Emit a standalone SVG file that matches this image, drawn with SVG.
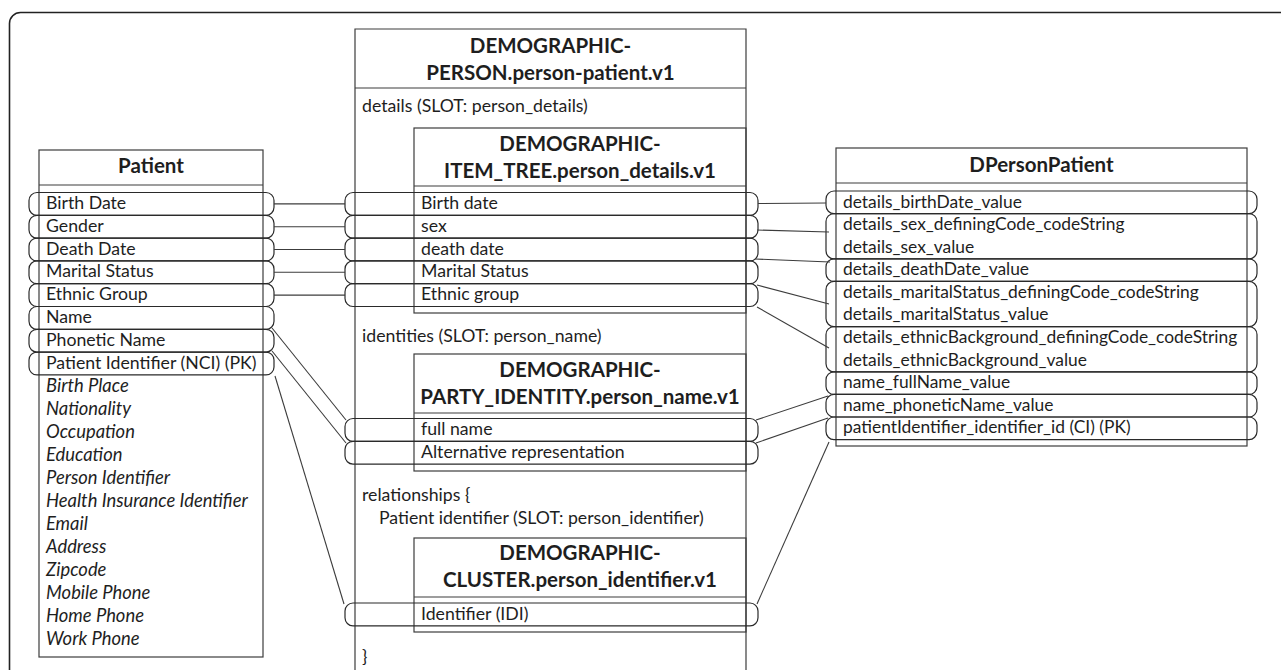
<svg xmlns="http://www.w3.org/2000/svg" width="1281" height="670" viewBox="0 0 1281 670">
<style>
.box{fill:none;stroke:#3c3c3c;stroke-width:1.2}
.pill{fill:none;stroke:#2a2a2a;stroke-width:1.2}
.ln{stroke:#3c3c3c;stroke-width:1.1;fill:none}
text{font-family:Lato,"Liberation Sans",sans-serif;fill:#1e1e1e}
.t{font-size:17.7px}
.r{font-size:17.4px}
.i{font-size:18.4px;font-style:italic}
.h{font-size:20.5px;font-weight:bold;text-anchor:middle}
</style>
<rect width="1281" height="670" fill="#fff"/>
<rect x="9.5" y="12.5" width="1320" height="720" rx="11" fill="none" stroke="#222" stroke-width="1.6"/>

<g id="patient">
<rect class="box" x="39" y="150" width="224" height="507"/>
<line class="box" x1="39" y1="185" x2="263" y2="185"/>
<text class="h" x="151" y="173">Patient</text>
<rect class="pill" x="29" y="192.5" width="245" height="22.8" rx="8"/>
<rect class="pill" x="29" y="215.3" width="245" height="22.8" rx="8"/>
<rect class="pill" x="29" y="238.1" width="245" height="22.8" rx="8"/>
<rect class="pill" x="29" y="260.9" width="245" height="22.8" rx="8"/>
<rect class="pill" x="29" y="283.7" width="245" height="22.8" rx="8"/>
<rect class="pill" x="29" y="306.5" width="245" height="22.8" rx="8"/>
<rect class="pill" x="29" y="329.3" width="245" height="22.8" rx="8"/>
<rect class="pill" x="29" y="352.1" width="245" height="22.8" rx="8"/>
<text class="t" x="46" y="209">Birth Date</text>
<text class="t" x="46" y="231.8">Gender</text>
<text class="t" x="46" y="254.6">Death Date</text>
<text class="t" x="46" y="277.4">Marital Status</text>
<text class="t" x="46" y="300.2">Ethnic Group</text>
<text class="t" x="46" y="323">Name</text>
<text class="t" x="46" y="345.8">Phonetic Name</text>
<text class="t" x="46" y="368.6">Patient Identifier (NCI) (PK)</text>
<text class="i" x="46" y="392">Birth Place</text>
<text class="i" x="46" y="415">Nationality</text>
<text class="i" x="46" y="438">Occupation</text>
<text class="i" x="46" y="461">Education</text>
<text class="i" x="46" y="484">Person Identifier</text>
<text class="i" x="46" y="507">Health Insurance Identifier</text>
<text class="i" x="46" y="530">Email</text>
<text class="i" x="46" y="553">Address</text>
<text class="i" x="46" y="576">Zipcode</text>
<text class="i" x="46" y="599">Mobile Phone</text>
<text class="i" x="46" y="622">Home Phone</text>
<text class="i" x="46" y="645">Work Phone</text>
</g>

<g id="person-patient">
<path class="box" d="M355 690 V29 H746 V690"/>
<line class="box" x1="355" y1="88" x2="746" y2="88"/>
<text class="h" x="550.5" y="52.5">DEMOGRAPHIC-</text>
<text class="h" x="550.5" y="79.5">PERSON.person-patient.v1</text>
<text class="t" x="362" y="111.5">details (SLOT: person_details)</text>
<text class="t" x="362" y="341.5">identities (SLOT: person_name)</text>
<text class="t" x="362" y="500.5">relationships {</text>
<text class="t" x="379" y="523.5">Patient identifier (SLOT: person_identifier)</text>
<text class="t" x="362" y="663">}</text>
</g>

<g id="person-details">
<rect class="box" x="414" y="128" width="332" height="185"/>
<line class="box" x1="414" y1="186" x2="746" y2="186"/>
<text class="h" x="580" y="150.5">DEMOGRAPHIC-</text>
<text class="h" x="580" y="177.5">ITEM_TREE.person_details.v1</text>
<rect class="pill" x="345" y="192.5" width="413" height="22.8" rx="8"/>
<rect class="pill" x="345" y="215.3" width="413" height="22.8" rx="8"/>
<rect class="pill" x="345" y="238.1" width="413" height="22.8" rx="8"/>
<rect class="pill" x="345" y="260.9" width="413" height="22.8" rx="8"/>
<rect class="pill" x="345" y="283.7" width="413" height="22.8" rx="8"/>
<text class="t" x="421" y="209">Birth date</text>
<text class="t" x="421" y="231.8">sex</text>
<text class="t" x="421" y="254.6">death date</text>
<text class="t" x="421" y="277.4">Marital Status</text>
<text class="t" x="421" y="300.2">Ethnic group</text>
</g>

<g id="person-name">
<rect class="box" x="414" y="354" width="332" height="117"/>
<line class="box" x1="414" y1="413" x2="746" y2="413"/>
<text class="h" x="580" y="376.5">DEMOGRAPHIC-</text>
<text class="h" x="580" y="403.5">PARTY_IDENTITY.person_name.v1</text>
<rect class="pill" x="345" y="418.5" width="413" height="22.8" rx="8"/>
<rect class="pill" x="345" y="441.3" width="413" height="22.8" rx="8"/>
<text class="t" x="421" y="435">full name</text>
<text class="t" x="421" y="457.8">Alternative representation</text>
</g>

<g id="person-identifier">
<rect class="box" x="414" y="538" width="332" height="94"/>
<line class="box" x1="414" y1="597" x2="746" y2="597"/>
<text class="h" x="580" y="560">DEMOGRAPHIC-</text>
<text class="h" x="580" y="587">CLUSTER.person_identifier.v1</text>
<rect class="pill" x="345" y="603" width="413" height="22.8" rx="8"/>
<text class="t" x="421" y="619.5">Identifier (IDI)</text>
</g>

<g id="dpersonpatient">
<rect class="box" x="836" y="148" width="411" height="298"/>
<line class="box" x1="836" y1="183" x2="1247" y2="183"/>
<text class="h" x="1041.5" y="172">DPersonPatient</text>
<rect class="pill" x="826" y="191" width="431" height="22.6" rx="8"/>
<rect class="pill" x="826" y="213.6" width="431" height="45.2" rx="8"/>
<rect class="pill" x="826" y="258.8" width="431" height="22.6" rx="8"/>
<rect class="pill" x="826" y="281.4" width="431" height="45.2" rx="8"/>
<rect class="pill" x="826" y="326.6" width="431" height="45.2" rx="8"/>
<rect class="pill" x="826" y="371.8" width="431" height="22.6" rx="8"/>
<rect class="pill" x="826" y="394.4" width="431" height="22.6" rx="8"/>
<rect class="pill" x="826" y="417" width="431" height="22.6" rx="8"/>
<text class="r" x="843" y="207.5">details_birthDate_value</text>
<text class="r" x="843" y="230">details_sex_definingCode_codeString</text>
<text class="r" x="843" y="252.6">details_sex_value</text>
<text class="r" x="843" y="275.2">details_deathDate_value</text>
<text class="r" x="843" y="297.8">details_maritalStatus_definingCode_codeString</text>
<text class="r" x="843" y="320.4">details_maritalStatus_value</text>
<text class="r" x="843" y="343">details_ethnicBackground_definingCode_codeString</text>
<text class="r" x="843" y="365.6">details_ethnicBackground_value</text>
<text class="r" x="843" y="388.2">name_fullName_value</text>
<text class="r" x="843" y="410.8">name_phoneticName_value</text>
<text class="r" x="843" y="433.4">patientIdentifier_identifier_id (CI) (PK)</text>
</g>

<g id="connectors">
<line class="ln" x1="274" y1="203.9" x2="345" y2="203.9"/>
<line class="ln" x1="274" y1="226.7" x2="345" y2="226.7"/>
<line class="ln" x1="274" y1="249.5" x2="345" y2="249.5"/>
<line class="ln" x1="274" y1="272.3" x2="345" y2="272.3"/>
<line class="ln" x1="274" y1="295.1" x2="345" y2="295.1"/>
<line class="ln" x1="272" y1="328" x2="346" y2="420"/>
<line class="ln" x1="272" y1="351" x2="346" y2="443"/>
<line class="ln" x1="275" y1="376" x2="344" y2="604"/>
<line class="ln" x1="758" y1="203.5" x2="826" y2="203"/>
<line class="ln" x1="757" y1="230" x2="829" y2="232"/>
<line class="ln" x1="755" y1="259" x2="830" y2="262"/>
<line class="ln" x1="757" y1="285" x2="829" y2="304"/>
<line class="ln" x1="757" y1="307" x2="829" y2="348"/>
<line class="ln" x1="756" y1="420" x2="828" y2="396"/>
<line class="ln" x1="756" y1="443" x2="828" y2="418"/>
<line class="ln" x1="757" y1="604" x2="829" y2="442"/>
</g>
</svg>
